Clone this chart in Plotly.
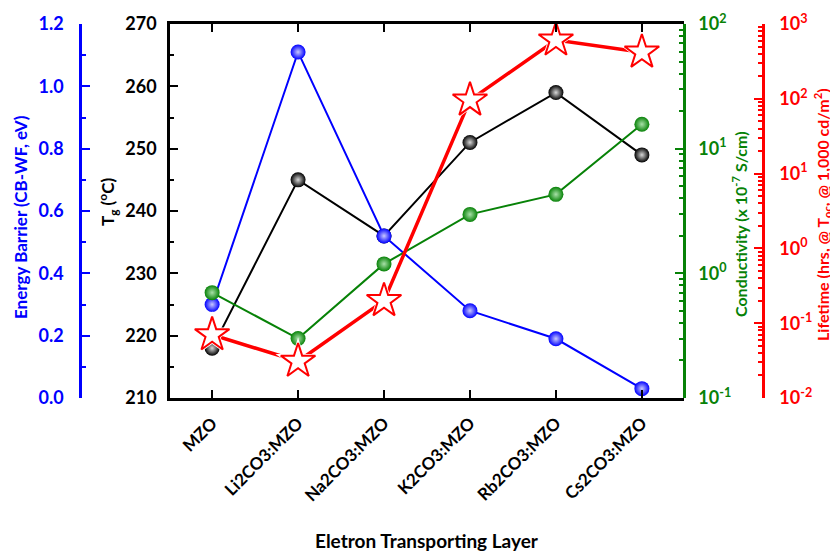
import plotly.graph_objects as go

categories = ["MZO", "Li2CO3:MZO", "Na2CO3:MZO", "K2CO3:MZO", "Rb2CO3:MZO", "Cs2CO3:MZO"]
tg = [218, 245, 236, 251, 259, 249]
energy_barrier = [0.30, 1.11, 0.52, 0.28, 0.19, 0.03]
conductivity = [0.70, 0.30, 1.19, 2.97, 4.3, 15.7]
lifetime = [0.07, 0.031, 0.20, 96, 610, 420]

green_ticks = [0.1, 1, 10, 100]
green_ticktext = ["10<sup>-1</sup>", "10<sup>0</sup>", "10<sup>1</sup>", "10<sup>2</sup>"]
red_ticks = [0.01, 0.1, 1, 10, 100, 1000]
red_ticktext = ["10<sup>-2</sup>", "10<sup>-1</sup>", "10<sup>0</sup>", "10<sup>1</sup>", "10<sup>2</sup>", "10<sup>3</sup>"]

BLUE = "#0000FF"
GREEN = "#078207"
RED = "#FF0000"
FONT = "Lato"

OFF = 8  # page body margin
W, H = 838 - OFF, 551 - OFF
TOP, BOT = 24 - OFF, 398 - OFF
x0, x1 = 170 - OFF, 684 - OFF
x = list(range(len(categories)))

def px_x(p):
    return (p - OFF) / W

def px_y(p):
    return (BOT - (p - OFF)) / (BOT - TOP)

def minor_log(lo, hi):
    vals = []
    for e in range(lo, hi):
        for m in range(2, 10):
            vals.append(m * 10 ** e)
    return vals

fig = go.Figure()

def ball(color, grad):
    return dict(symbol="circle", size=15, color=color,
                gradient=dict(type="radial", color=grad), line=dict(width=0))

fig.add_trace(go.Scatter(x=x, y=conductivity, yaxis="y3", mode="lines+markers",
                         line=dict(color=GREEN, width=2), marker=ball(GREEN, "#a8e0a8")))
fig.add_trace(go.Scatter(x=x, y=tg, yaxis="y", mode="lines+markers",
                         line=dict(color="black", width=2), marker=ball("black", "#d8d8d8")))
fig.add_trace(go.Scatter(x=x, y=energy_barrier, yaxis="y2", mode="lines+markers",
                         line=dict(color=BLUE, width=2), marker=ball(BLUE, "#c8c8ff")))
fig.add_trace(go.Scatter(x=x, y=lifetime, yaxis="y4", mode="lines",
                         line=dict(color=RED, width=3.5)))
fig.add_trace(go.Scatter(x=x, y=lifetime, yaxis="y4", mode="markers",
                         marker=dict(symbol="star", size=34, color="white", line=dict(width=0))))
fig.add_trace(go.Scatter(x=x, y=lifetime, yaxis="y4", mode="markers",
                         marker=dict(symbol="star", size=26, color="white",
                                     line=dict(color=RED, width=2))))

tickfont = lambda c: dict(family=FONT, size=18, color=c, weight="bold")

fig.update_layout(
    width=W, height=H, showlegend=False,
    paper_bgcolor="white", plot_bgcolor="white",
    margin=dict(l=0, r=0, t=TOP, b=H - BOT),
    xaxis=dict(domain=[x0 / W, x1 / W], range=[-0.49, 5.49],
               tickvals=x, ticktext=categories, tickangle=-45,
               tickfont=dict(family=FONT, size=17, color="black", weight="bold"),
               ticks="inside", ticklen=8, tickwidth=2, tickcolor="black",
               showline=True, linecolor="black", linewidth=2.5, mirror="ticks",
               showgrid=False, zeroline=False, automargin=False, ticklabelstandoff=6),
    yaxis=dict(range=[210, 270], dtick=10, tick0=210,
               ticks="inside", ticklen=8, tickwidth=2, tickcolor="black",
               minor=dict(ticks="inside", ticklen=4, dtick=5, tickcolor="black", tickwidth=2),
               showline=True, linecolor="black", linewidth=2.5,
               tickfont=tickfont("black"), showgrid=False, zeroline=False,
               automargin=False, ticklabelstandoff=7),
    yaxis2=dict(range=[0, 1.2], dtick=0.2, tick0=0, tickformat=".1f",
                overlaying="y", anchor="free", position=px_x(80), side="left",
                ticks="inside", ticklen=8, tickwidth=2, tickcolor=BLUE,
                minor=dict(ticks="inside", ticklen=4, dtick=0.1, tickcolor=BLUE, tickwidth=2),
                showline=True, linecolor=BLUE, linewidth=2.5,
                tickfont=tickfont(BLUE), showgrid=False, zeroline=False,
                automargin=False, ticklabelstandoff=12),
    yaxis3=dict(type="log", range=[-1, 2], tickvals=green_ticks, ticktext=green_ticktext,
                overlaying="y", anchor="free", position=x1 / W, side="right",
                ticks="inside", ticklen=8, tickwidth=2, tickcolor=GREEN,
                minor=dict(ticks="inside", ticklen=4, tickvals=minor_log(-1, 2),
                           tickcolor=GREEN, tickwidth=1.5),
                showline=True, linecolor=GREEN, linewidth=2.5,
                tickfont=tickfont(GREEN), showgrid=False, zeroline=False,
                automargin=False, ticklabelstandoff=9),
    yaxis4=dict(type="log", range=[-2, 3], tickvals=red_ticks, ticktext=red_ticktext,
                overlaying="y", anchor="free", position=px_x(763), side="right",
                ticks="inside", ticklen=8, tickwidth=2, tickcolor=RED,
                minor=dict(ticks="inside", ticklen=4, tickvals=minor_log(-2, 3),
                           tickcolor=RED, tickwidth=1.5),
                showline=True, linecolor=RED, linewidth=2.5,
                tickfont=tickfont(RED), showgrid=False, zeroline=False,
                automargin=False, ticklabelstandoff=11),
)

annots = [
    dict(text="Energy Barrier (CB-WF, eV)", x=20, y=217, color=BLUE, angle=-90, size=17),
    dict(text="T<sub>g</sub> (<sup>o</sup>C)", x=108, y=202, color="black", angle=-90, size=17),
    dict(text="Conductivity (x 10<sup>-7</sup> S/cm)", x=740, y=224, color=GREEN, angle=-90, size=16),
    dict(text="Lifetime (hrs, @ T<sub>oc</sub>, @ 1,000 cd/m<sup>2</sup>)", x=822, y=215, color=RED, angle=-90, size=16),
    dict(text="Eletron Transporting Layer", x=427, y=540, color="black", angle=0, size=19),
]
for a in annots:
    fig.add_annotation(text=a["text"], x=px_x(a["x"]), y=px_y(a["y"]), xref="paper", yref="paper",
                       textangle=a["angle"], showarrow=False, xanchor="center", yanchor="middle",
                       font=dict(family=FONT, size=a["size"], color=a["color"], weight="bold"))

fig.write_html("out.html")
